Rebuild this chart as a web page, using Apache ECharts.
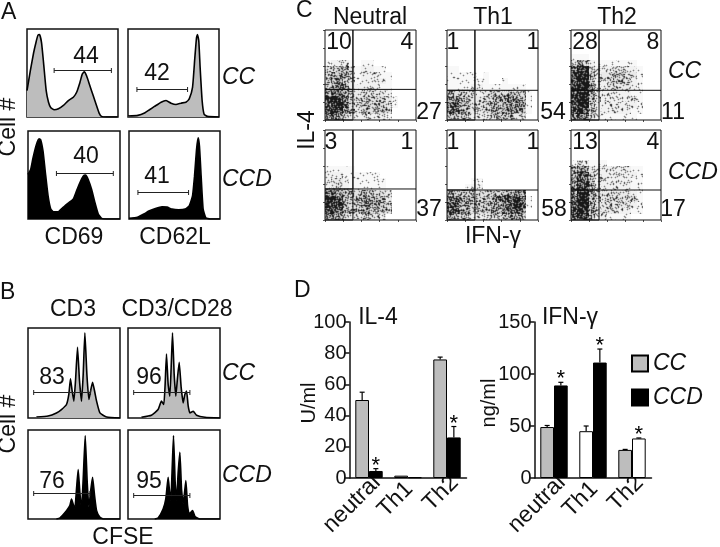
<!DOCTYPE html>
<html><head><meta charset="utf-8">
<style>html,body{margin:0;padding:0;background:#fff}#c{width:720px;height:547px}</style>
<script src="https://cdn.jsdelivr.net/npm/echarts@6/dist/echarts.min.js"></script>
</head><body><div id="c"></div>
<script>
// ---------- Histogram data: [channel, count] ----------
const cd69CC=[[0,80],[10,140],[20,195],[28,230],[33,248],[38,250],[44,225],[50,165],[58,80],[65,45],[72,28],[82,22],[95,25],[110,35],[125,50],[140,60],[150,75],[160,105],[167,130],[173,137],[180,125],[190,95],[200,65],[210,35],[218,12],[225,2],[240,0],[274,0]];
const cd62lCC=[[0,3],[30,5],[50,12],[65,22],[80,32],[100,45],[115,50],[130,42],[145,38],[160,42],[175,45],[185,55],[195,90],[202,180],[207,240],[210,250],[214,230],[218,150],[224,50],[230,8],[240,2],[275,0]];
const cd69CCD=[[0,135],[8,150],[15,185],[25,225],[33,243],[38,240],[45,205],[52,140],[60,70],[68,30],[76,22],[90,22],[105,35],[120,48],[135,60],[145,85],[155,110],[165,130],[172,133],[180,120],[190,90],[200,50],[210,15],[220,2],[235,0],[275,0]];
const cd62lCCD=[[0,2],[25,5],[45,15],[60,24],[80,32],[100,37],[115,36],[130,30],[150,28],[170,30],[182,40],[192,70],[198,130],[204,210],[209,246],[213,220],[218,130],[224,30],[232,4],[245,0],[275,0]];
const cfseCD3CC=[[25,3],[60,6],[85,15],[100,25],[115,40],[122,70],[127,116],[132,80],[137,50],[142,110],[148,210],[154,110],[160,50],[165,130],[170,253],[176,130],[182,55],[187,80],[193,106],[199,80],[205,50],[215,15],[235,3],[275,0]];
const cfseCD28CC=[[40,2],[70,8],[90,25],[100,50],[107,40],[111,100],[115,190],[120,100],[125,65],[129,150],[133,253],[138,130],[143,65],[148,120],[153,165],[159,90],[165,45],[170,70],[175,80],[180,35],[185,15],[195,20],[205,8],[230,2],[275,0]];
const cfseCD3CCD=[[85,0],[95,3],[115,25],[125,40],[130,60],[135,45],[140,30],[145,90],[150,148],[155,80],[160,30],[165,120],[171,250],[177,110],[182,35],[188,90],[193,125],[199,70],[205,25],[215,5],[225,0],[275,0]];
const cfseCD28CCD=[[80,0],[90,3],[105,30],[113,60],[120,125],[124,85],[128,55],[132,150],[136,250],[141,110],[145,55],[150,140],[155,200],[160,90],[165,45],[169,80],[173,115],[178,40],[183,15],[193,25],[200,8],[207,3],[215,0],[275,0]];

// Gate brackets: [from, to, height]
const gateA=[[82,255,142],[27,180,84],[85,255,141],[27,180,81]];
const gateB=[[17,187,78],[17,185,78],[17,185,77],[17,185,73]];

// ---------- Dot plot density, one digit per cell (0 none .. 9 densest), top row first ----------
const E="000000000000000";
const neutralCC=[E,E,E,E,E,"122210110000000","345431221100000","456531222110000","456431222210000","456532222110000","677633333320000","898743444431000","899743444431000","898643444430000","675432222210000"];
const th1CC=[E,E,E,E,E,E,"110000000000000","111110100000000","111111100100000","111122111111100","444332344454410","665433445565510","775433455666510","665433345565510","554322234443300"];
const th2CC=[E,E,E,E,"111000000000000","354211111110000","798422233221000","899523344331000","899422344321000","899522333321000","899522222211000","899522222221000","899422222221000","898422222211000","677321111110000"];
const neutralCCD=[E,E,E,E,E,E,"111110000000000","222111111000000","233211111100000","233211111100000","776544544430000","987544655530000","998544665540000","887544554430000","665433333200000"];
const th1CCD=[E,E,E,E,E,E,E,E,"000011000000000","000122000000000","554444444556600","776554556778710","875554556788710","775544455677600","654322233455400"];
const th2CCD=[E,E,E,E,E,"132111000000000","576322222211000","587422222221000","687422222211000","688422222211000","699533333321000","799533333331000","899533333321000","899533332211000","788422111100000"];
const quadGates=[[4.6,5.1],[4.6,4.95],[4.67,4.95],[4.6,5.17],[4.6,5],[4.67,5]];

// ---------- Bars ----------
const groups=["neutral","Th1","Th2"];
const il4CC=[50,1.5,76];
const il4CCD=[4.5,0.5,26];
const il4CCtop=[55,1.5,77.5];
const il4CCDtop=[6,0.5,33];
const il4CCDstar=[true,false,true];
const ifnCC=[49,45,27];
const ifnCCD=[89,111,38];
const ifnCCtop=[50.5,50,27.5];
const ifnCCDtop=[92,124,38.5];
const ifnCCDstar=[true,true,true];
const ifnCCcolors=["#bdbdbd","#ffffff","#bdbdbd"];
const ifnCCDcolors=["#000000","#000000","#ffffff"];

// ---------- Layout ----------
const GREY="#bdbdbd",INK="#111";
const grids=[],xAxes=[],yAxes=[],series=[];
function addGrid(x0,y0,x1,y1,xo,yo,box){
  grids.push({left:x0,top:y0,width:x1-x0,height:y1-y0,show:!!box,borderColor:INK,borderWidth:1.5,backgroundColor:'transparent'});
  xAxes.push(Object.assign({gridIndex:grids.length-1,type:'value',show:false,splitLine:{show:false}},xo));
  yAxes.push(Object.assign({gridIndex:grids.length-1,type:'value',show:false,splitLine:{show:false}},yo));
  return grids.length-1;
}
function hist(rect,curve,gate,fill){
  const g=addGrid(rect[0],rect[1],rect[2],rect[3],{min:0,max:275},{min:0,max:267},true);
  series.push({type:'line',xAxisIndex:g,yAxisIndex:g,data:curve,symbol:'none',silent:true,smooth:0.15,
    lineStyle:{color:'#000',width:1.6},areaStyle:{color:fill,opacity:1},z:2});
  series.push({type:'custom',xAxisIndex:g,yAxisIndex:g,silent:true,z:3,clip:false,data:[gate],encode:{x:[0,1],y:2},
    renderItem(p,api){
      const a=api.coord([api.value(0),api.value(2)]),b=api.coord([api.value(1),api.value(2)]),d=2.5,y=Math.round(a[1])+.5;
      const s={stroke:'#222',lineWidth:1};
      return {type:'group',children:[
        {type:'line',shape:{x1:a[0],y1:y,x2:b[0],y2:y},style:s},
        {type:'line',shape:{x1:a[0],y1:y-d,x2:a[0],y2:y+d},style:s},
        {type:'line',shape:{x1:b[0],y1:y-d,x2:b[0],y2:y+d},style:s}]};
    }});
}
hist([27,29,118,117],cd69CC,gateA[0],GREY);
hist([128,29,219,117],cd62lCC,gateA[1],GREY);
hist([28,131,120,219],cd69CCD,gateA[2],'#000');
hist([129,131,220,219],cd62lCCD,gateA[3],'#000');
hist([28,328,120,418],cfseCD3CC,gateB[0],GREY);
hist([128,328,220,418],cfseCD28CC,gateB[1],GREY);
hist([28,430,120,519],cfseCD3CCD,gateB[2],'#000');
hist([128,430,220,519],cfseCD28CCD,gateB[3],'#000');

// Stippled rendering of a density level: a fixed grain mask, thresholded by the level, softened a little.
const TILE=128,grain=[];
(function(){let s=2463534242;for(let i=0;i<TILE*TILE;i++){s^=s<<13;s^=s>>>17;s^=s<<5;grain.push((s>>>0)/4294967296);}})();
function stipple(level){
  const c=document.createElement('canvas');c.width=c.height=TILE;
  const x=c.getContext('2d'),im=x.createImageData(TILE,TILE),f=Math.pow(level/9,1.4)*.88,haze=255-level*7;
  const raw=grain.map(g=>g<f?25:haze);
  const at=(a,b)=>raw[((b+TILE)%TILE)*TILE+((a+TILE)%TILE)];
  for(let b=0;b<TILE;b++)for(let a=0;a<TILE;a++){
    const v=(at(a,b)*4+at(a-1,b)+at(a+1,b)+at(a,b-1)+at(a,b+1))/8,i=(b*TILE+a)*4;
    im.data[i]=im.data[i+1]=im.data[i+2]=v;im.data[i+3]=255;
  }
  x.putImageData(im,0,0);return c;
}
const fills=[0,1,2,3,4,5,6,7,8,9].map(stipple);

function dots(rect,rows,q){
  const tick={length:2,lineStyle:{color:'#555',width:1}};
  const ax={show:true,min:0,max:15,interval:3,axisLabel:{show:false},axisLine:{show:false},axisTick:tick};
  const g=addGrid(rect[0],rect[1],rect[2],rect[3],ax,ax,false);
  const cells=[];
  rows.forEach((r,i)=>{[...r].forEach((ch,j)=>{if(ch!=='0')cells.push([j,14-i,+ch]);});});
  series.push({type:'custom',xAxisIndex:g,yAxisIndex:g,silent:true,z:2,data:cells,encode:{x:0,y:1},
    renderItem(p,api){
      const a=api.coord([api.value(0),api.value(1)+1]),b=api.coord([api.value(0)+1,api.value(1)]);
      const x0=Math.round(a[0]),y0=Math.round(a[1]),w=Math.round(b[0])-x0,h=Math.round(b[1])-y0;
      return {type:'image',style:{image:fills[api.value(2)],x:x0,y:y0,width:w,height:h,sx:x0%100,sy:y0%100,sWidth:w,sHeight:h}};
    }});
  series.push({type:'line',xAxisIndex:g,yAxisIndex:g,symbol:'none',silent:true,z:4,clip:false,lineStyle:{color:INK,width:1},
    data:[[0,0],[15,0],[15,15],[0,15],[0,0],[q[0],0],[q[0],15],[q[0],q[1]],[0,q[1]],[15,q[1]]]});
}
dots([325,30,416,120],neutralCC,quadGates[0]);
dots([447,30,538,120],th1CC,quadGates[1]);
dots([571,30,661,120],th2CC,quadGates[2]);
dots([325,130,416,220],neutralCCD,quadGates[3]);
dots([447,130,538,220],th1CCD,quadGates[4]);
dots([571,130,661,220],th2CCD,quadGates[5]);

const barW=13.7;
function bars(left,maxV,step,cc,ccd,ccTop,ccdTop,stars,ccColors,ccdColors){
  const cats=groups.map(n=>n==='Th1'?{value:n,textStyle:{padding:[0,-2,0,0]}}:n);
  const g=addGrid(left,322,left+117,478,
    {type:'category',show:true,data:cats,axisTick:{show:false},axisLine:{lineStyle:{color:INK,width:1.5}},
     axisLabel:{interval:0,rotate:45,fontSize:23,color:INK,margin:9,padding:[0,-11,0,0],fontFamily:'Liberation Sans'}},
    {show:true,min:0,max:maxV,interval:step,axisTick:{show:true,length:5,lineStyle:{color:INK,width:1.5}},
     axisLine:{show:true,lineStyle:{color:INK,width:1.5}},axisLabel:{fontSize:20,color:INK,margin:3,fontFamily:'Liberation Sans'}});
  const it=(vals,cols,def)=>vals.map((v,i)=>({value:v,itemStyle:{color:cols?cols[i]:def}}));
  series.push({type:'bar',name:'CC',xAxisIndex:g,yAxisIndex:g,barWidth:barW,barGap:0,silent:true,data:it(cc,ccColors,GREY),itemStyle:{color:GREY,borderColor:'#000',borderWidth:1}});
  series.push({type:'bar',name:'CCD',xAxisIndex:g,yAxisIndex:g,barWidth:barW,barGap:0,silent:true,data:it(ccd,ccdColors,'#000'),itemStyle:{color:'#000',borderColor:'#000',borderWidth:1}});
  const mk=(tops,vals,off,st)=>({type:'custom',xAxisIndex:g,yAxisIndex:g,silent:true,z:5,clip:false,
    data:tops.map((t,i)=>[i,vals[i],t,st&&st[i]?1:0]),encode:{x:0,y:2},
    renderItem(p,api){
      const b=api.coord([api.value(0),api.value(1)]),t=api.coord([api.value(0),api.value(2)]);
      const x=b[0]+off*barW/2,ch=[];
      if(t[1]<b[1]-0.5){
        ch.push({type:'line',shape:{x1:x,y1:b[1],x2:x,y2:t[1]},style:{stroke:'#000',lineWidth:1.2}});
        ch.push({type:'line',shape:{x1:x-2.5,y1:t[1],x2:x+2.5,y2:t[1]},style:{stroke:'#000',lineWidth:1.2}});
      }
      if(api.value(3))ch.push({type:'text',style:{text:'*',x:x,y:t[1]+8,textAlign:'center',textVerticalAlign:'bottom',font:'22px "Liberation Sans"',fill:'#000'}});
      return {type:'group',children:ch};
    }});
  series.push(mk(ccTop,cc,-1,null));
  series.push(mk(ccdTop,ccd,1,stars));
}
bars(349.5,100,20,il4CC,il4CCD,il4CCtop,il4CCDtop,il4CCDstar);
bars(534.5,150,50,ifnCC,ifnCCD,ifnCCtop,ifnCCDtop,ifnCCDstar,ifnCCcolors,ifnCCDcolors);

// ---------- Text ----------
const FS=23;
const texts=[
 ["A",1,13,'l'],["B",0,293,'l'],["C",296,11,'l'],["D",294,291,'l'],
 ["CD69",74,238],["CD62L",175,238],["44",86,57],["42",157,74],["40",86,157],["41",157,177],
 ["CD3",73,310],["CD3/CD28",177,310],["83",52,378],["96",149,378],["76",52,482],["95",149,482],["CFSE",123,538],
 ["Neutral",370,18],["Th1",493,18],["Th2",617,18],
 ["10",339,43],["4",407,43],["27",429,113],["1",453,43],["1",533,43],["54",553,113],["28",585,43],["8",653,43],["11",673,113],
 ["3",331,143],["1",407,143],["37",429,210],["1",453,143],["1",533,143],["58",554,210],["13",585,143],["4",653,143],["17",673,210],
 ["IFN-γ",493,237],["IL-4",378,318],["IFN-γ",570,318]
];
const italics=[["CC",222,78],["CCD",222,180],["CC",222,374],["CCD",222,476],["CC",668,72],["CCD",668,173]];
const vertical=[["Cell #",9,127,FS],["Cell #",9,424,FS],["IL-4",308,130,FS],["U/ml",309,403,20],["ng/ml",489,403,20]];
const elements=[];
texts.forEach(t=>elements.push({type:'text',silent:true,style:{text:t[0],x:t[1],y:t[2],textAlign:t[3]==='l'?'left':'center',textVerticalAlign:'middle',font:FS+'px "Liberation Sans"',fill:INK}}));
italics.forEach(t=>elements.push({type:'text',silent:true,style:{text:t[0],x:t[1],y:t[2],textAlign:'left',textVerticalAlign:'middle',font:'italic '+FS+'px "Liberation Sans"',fill:INK}}));
vertical.forEach(t=>elements.push({type:'text',silent:true,x:t[1],y:t[2],rotation:Math.PI/2,style:{text:t[0],x:0,y:0,textAlign:'center',textVerticalAlign:'middle',font:t[3]+'px "Liberation Sans"',fill:INK}}));

const chart=echarts.init(document.getElementById('c'),null,{renderer:'canvas'});
chart.setOption({animation:false,backgroundColor:'#fff',grid:grids,xAxis:xAxes,yAxis:yAxes,series:series,
  legend:{data:[{name:'CC',icon:'rect'},{name:'CCD',icon:'rect'}],orient:'vertical',left:631,top:352,padding:0,itemWidth:16,itemHeight:16,itemGap:11,selectedMode:false,
    textStyle:{fontSize:FS,fontStyle:'italic',color:INK,fontFamily:'Liberation Sans'}},
  graphic:{elements:elements}});
</script></body></html>
